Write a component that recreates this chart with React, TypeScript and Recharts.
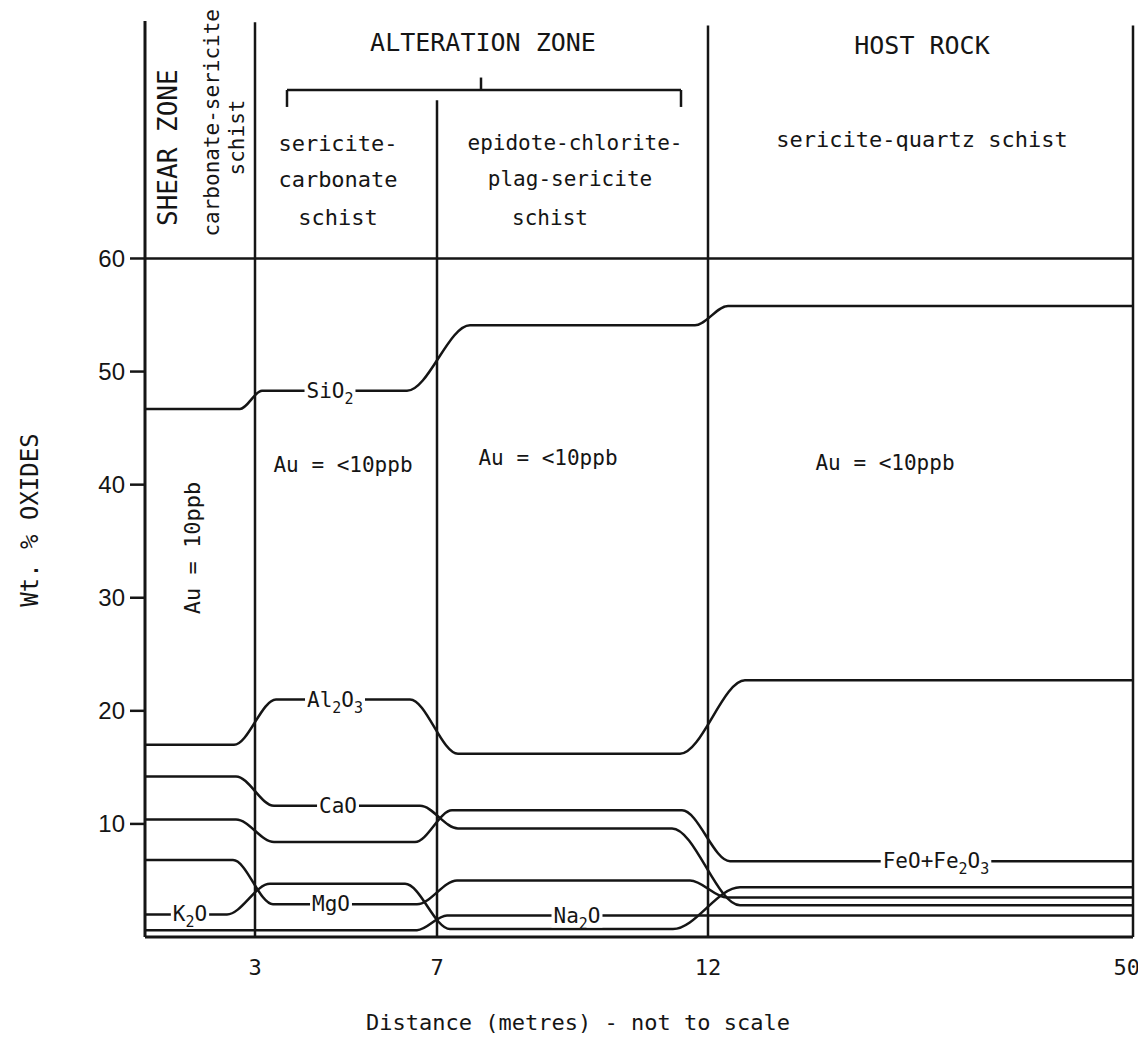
import React from 'react';
import { LineChart, Line, XAxis, YAxis, ReferenceLine, ReferenceDot } from 'recharts';

// ---------- axis data ----------
const xTickPositions = [110, 292, 563, 988];
const xTickLabels = ['3', '7', '12', '50'];
const yTicks = [10, 20, 30, 40, 50, 60];

// ---------- series (schematic distance position, wt.%) ----------
const sio2X = [0, 95, 117, 262, 325, 550, 583, 988];
const sio2Y = [46.7, 46.7, 48.3, 48.3, 54.1, 54.1, 55.8, 55.8];

const al2o3X = [0, 89, 131, 265, 313, 535, 600, 988];
const al2o3Y = [17.0, 17.0, 21.0, 21.0, 16.2, 16.2, 22.7, 22.7];

const caoX = [0, 91, 129, 275, 313, 527, 595, 988];
const caoY = [14.2, 14.2, 11.6, 11.6, 9.6, 9.6, 2.8, 2.8];

const feoX = [0, 91, 129, 270, 307, 537, 585, 988];
const feoY = [10.4, 10.4, 8.4, 8.4, 11.2, 11.2, 6.7, 6.7];

const mgoX = [0, 88, 128, 272, 312, 545, 582, 988];
const mgoY = [6.8, 6.8, 2.9, 2.9, 5.0, 5.0, 3.5, 3.5];

const k2oX = [0, 82, 125, 260, 305, 528, 595, 988];
const k2oY = [2.0, 2.0, 4.7, 4.7, 0.7, 0.7, 4.4, 4.4];

const na2oX = [0, 272, 302, 988];
const na2oY = [0.6, 0.6, 1.9, 1.9];

// ---------- series labels ----------
const oxideLabelText = ['SiO_2', 'Al_2O_3', 'CaO', 'MgO', 'K_2O', 'Na_2O', 'FeO+Fe_2O_3'];
const oxideLabelX = [185, 190, 193, 186, 45, 432, 791];
const oxideLabelY = [48.3, 21.0, 11.6, 2.9, 2.0, 1.9, 6.7];

// ---------- zone annotations ----------
const zoneText = [
  'ALTERATION ZONE', 'HOST ROCK',
  'sericite-', 'carbonate', 'schist',
  'epidote-chlorite-', 'plag-sericite', 'schist',
  'sericite-quartz schist',
  'Au = <10ppb', 'Au = <10ppb', 'Au = <10ppb',
];
const zoneX = [338, 777, 193, 193, 193, 430, 425, 405, 777, 198, 403, 740];
const zoneY = [79.1, 78.8, 70.2, 67.0, 63.6, 70.2, 67.0, 63.6, 70.5, 41.7, 42.4, 41.9];
const zoneSize = [25, 25, 22, 22, 22, 21, 21, 21, 22, 21, 21, 21];

const rotText = ['SHEAR ZONE', 'carbonate-sericite', 'schist', 'Au = 10ppb'];
const rotX = [23, 67, 92, 48];
const rotY = [69.8, 72.0, 70.7, 34.4];
const rotSize = [26, 21, 21, 22];

// boundary lines: x position, top value
const boundaryX = [110, 292, 563, 988];
const boundaryTop = [80.9, 74.0, 80.6, 80.6];

// bracket
const bracketLeft = 142;
const bracketRight = 536;
const bracketMid = 336;
const bracketY = 74.9;
const bracketEndY = 73.4;
const bracketMidTop = 76.0;

const INK = '#151515';
const MONO = '"DejaVu Sans Mono", monospace';

const toData = (xs: number[], ys: number[]) => xs.map((x, i) => ({ x, v: ys[i] }));

const seriesList = [
  toData(sio2X, sio2Y),
  toData(al2o3X, al2o3Y),
  toData(caoX, caoY),
  toData(feoX, feoY),
  toData(mgoX, mgoY),
  toData(k2oX, k2oY),
  toData(na2oX, na2oY),
];

const parseParts = (s: string) => {
  const parts: { t: string; sub: boolean }[] = [];
  let i = 0;
  while (i < s.length) {
    if (s[i] === '_' && i + 1 < s.length) {
      parts.push({ t: s[i + 1], sub: true });
      i += 2;
    } else {
      const last = parts[parts.length - 1];
      if (last && !last.sub) last.t += s[i];
      else parts.push({ t: s[i], sub: false });
      i += 1;
    }
  }
  return parts;
};

const centerOf = (props: any) => {
  const vb = props.viewBox || {};
  return { cx: (vb.x || 0) + (vb.width || 0) / 2, cy: (vb.y || 0) + (vb.height || 0) / 2 };
};

const oxideLabel = (text: string) => (props: any) => {
  const { cx, cy } = centerOf(props);
  const parts = parseParts(text);
  const fs = 21;
  const sfs = 15;
  let w = 0;
  parts.forEach((p) => { w += p.t.length * (p.sub ? sfs : fs) * 0.602; });
  const pad = 2;
  let shift = 0;
  return (
    <g>
      <rect x={cx - w / 2 - pad} y={cy - 12} width={w + 2 * pad} height={24} fill="#fff" />
      <text x={cx} y={cy + 7} textAnchor="middle" fontFamily={MONO} fontSize={fs} fill={INK}>
        {parts.map((p, i) => {
          const dy = p.sub ? 6 - shift : -shift;
          shift = p.sub ? 6 : 0;
          return (
            <tspan key={i} dy={dy} fontSize={p.sub ? sfs : fs}>{p.t}</tspan>
          );
        })}
      </text>
    </g>
  );
};

const plainLabel = (text: string, size: number, rotate: boolean) => (props: any) => {
  const { cx, cy } = centerOf(props);
  return (
    <text
      x={cx}
      y={cy}
      textAnchor="middle"
      dominantBaseline="central"
      fontFamily={MONO}
      fontSize={size}
      fill={INK}
      transform={rotate ? `rotate(-90, ${cx}, ${cy})` : undefined}
    >
      {text}
    </text>
  );
};

const XTick = (props: any) => {
  const { x, y, payload, index } = props;
  const label = xTickLabels[xTickPositions.indexOf(payload.value)] ?? '';
  const last = index === xTickPositions.length - 1;
  return (
    <text
      x={x}
      y={y}
      dy={16}
      textAnchor={last ? 'end' : 'middle'}
      dx={last ? 7 : 0}
      fontFamily={MONO}
      fontSize={22}
      fill={INK}
    >
      {label}
    </text>
  );
};

export default function App() {
  return (
    <div style={{ width: 1138, height: 1036, background: '#fff' }}>
      <LineChart width={1138} height={1036} margin={{ top: 13, right: 13, bottom: 7, left: 0 }}>
        <XAxis
          type="number"
          dataKey="x"
          domain={[0, 988]}
          ticks={xTickPositions}
          interval={0}
          tickLine={false}
          tickSize={8}
          tickMargin={14}
          height={100}
          axisLine={{ stroke: INK, strokeWidth: 3 }}
          tick={<XTick />}
          allowDataOverflow
          label={{
            content: () => (
              <text x={570} y={1014} textAnchor="middle" dominantBaseline="central" fontFamily={MONO} fontSize={22} fill={INK}>
                Distance (metres) - not to scale
              </text>
            ),
          }}
        />
        <YAxis
          type="number"
          domain={[0, 81]}
          ticks={yTicks}
          interval={0}
          width={137}
          tickSize={15}
          tickMargin={5}
          axisLine={{ stroke: INK, strokeWidth: 3 }}
          tickLine={{ stroke: INK, strokeWidth: 2.5 }}
          tick={{ fontSize: 24, fontFamily: '"Liberation Sans", Arial, sans-serif', fill: INK }}
          allowDataOverflow
          label={{
            content: () => (
              <text x={22} y={512} textAnchor="middle" dominantBaseline="central" fontFamily={MONO} fontSize={24} fill={INK} transform="rotate(-90, 22, 512)">
                Wt. % OXIDES
              </text>
            ),
          }}
        />

        {/* 60 line */}
        <ReferenceLine y={60} stroke={INK} strokeWidth={2.5} />

        {/* zone boundaries */}
        {boundaryX.map((bx, i) => (
          <ReferenceLine
            key={'b' + i}
            segment={[{ x: bx, y: 0 }, { x: bx, y: boundaryTop[i] }]}
            stroke={INK}
            strokeWidth={2.5}
            ifOverflow="visible"
          />
        ))}

        {/* bracket */}
        <ReferenceLine segment={[{ x: bracketLeft, y: bracketY }, { x: bracketRight, y: bracketY }]} stroke={INK} strokeWidth={2.5} />
        <ReferenceLine segment={[{ x: bracketLeft, y: bracketY }, { x: bracketLeft, y: bracketEndY }]} stroke={INK} strokeWidth={2.5} />
        <ReferenceLine segment={[{ x: bracketRight, y: bracketY }, { x: bracketRight, y: bracketEndY }]} stroke={INK} strokeWidth={2.5} />
        <ReferenceLine segment={[{ x: bracketMid, y: bracketY }, { x: bracketMid, y: bracketMidTop }]} stroke={INK} strokeWidth={2.5} />

        {seriesList.map((d, i) => (
          <Line
            key={'s' + i}
            data={d}
            dataKey="v"
            type="monotone"
            stroke={INK}
            strokeWidth={2.5}
            dot={false}
            activeDot={false}
            isAnimationActive={false}
          />
        ))}

        {oxideLabelText.map((t, i) => (
          <ReferenceDot
            key={'ol' + i}
            x={oxideLabelX[i]}
            y={oxideLabelY[i]}
            r={0}
            fill="none"
            stroke="none"
            label={oxideLabel(t)}
          />
        ))}

        {zoneText.map((t, i) => (
          <ReferenceDot
            key={'z' + i}
            x={zoneX[i]}
            y={zoneY[i]}
            r={0}
            fill="none"
            stroke="none"
            label={plainLabel(t, zoneSize[i], false)}
          />
        ))}

        {rotText.map((t, i) => (
          <ReferenceDot
            key={'r' + i}
            x={rotX[i]}
            y={rotY[i]}
            r={0}
            fill="none"
            stroke="none"
            label={plainLabel(t, rotSize[i], true)}
          />
        ))}
      </LineChart>
    </div>
  );
}
